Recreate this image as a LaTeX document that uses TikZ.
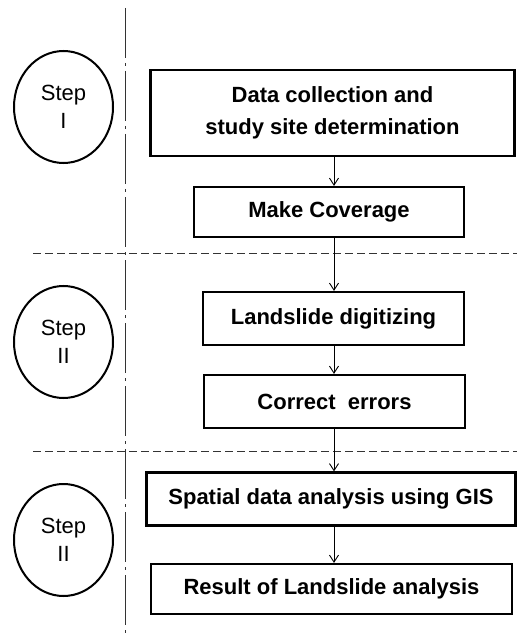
\documentclass[tikz,border=0pt]{standalone}
\usepackage{fontspec}
\setmainfont{Liberation Sans}
\usetikzlibrary{arrows.meta,shapes.geometric}
\begin{document}
\begin{tikzpicture}[x=1pt,y=-1pt,
  stepbox/.style={draw=black,line width=2.2pt,inner sep=0pt,align=center,
     font=\fontsize{22}{32}\selectfont\bfseries},
  stepcirc/.style={draw=black,line width=2pt,ellipse,minimum width=99pt,minimum height=112pt,
     inner sep=0pt,align=center,font=\fontsize{22}{28}\selectfont},
  arr/.style={line width=0.9pt,-{Straight Barb[length=7pt,width=9pt,line width=0.9pt]}},
  sep/.style={line width=1pt,draw=black!80,dash pattern=on 8pt off 4pt},
  vsep/.style={line width=1pt,draw=black!80,dash pattern=on 50pt off 5pt on 3pt off 5pt}
]
\useasboundingbox (0,0) rectangle (517,636);
% step circles
\node[stepcirc] (c1) at (63.5,107) {Step\\I};
\node[stepcirc] (c2) at (63.5,342) {Step\\II};
\node[stepcirc] (c3) at (63.5,540) {Step\\II};
% separators
\coordinate (vt) at (125,8);
\coordinate (vb) at (125,636);
\draw[vsep] (vt) -- (vb);
\coordinate (h1l) at (33,253);
\coordinate (h1r) at (517,253);
\draw[sep] (h1l) -- (h1r);
\coordinate (h2l) at (33,451);
\coordinate (h2r) at (517,451);
\draw[sep] (h2l) -- (h2r);
% boxes
\node[stepbox,minimum width=364pt,minimum height=86pt] (b1) at (332.5,113) {Data collection and\\study site determination};
\node[stepbox,minimum width=270pt,minimum height=50pt] (b2) at (329,212) {Make Coverage};
\node[stepbox,minimum width=261pt,minimum height=53pt] (b3) at (333.5,318.5) {Landslide digitizing};
\node[stepbox,minimum width=261pt,minimum height=53pt] (b4) at (334.5,401.5) {Correct\ \ errors};
\node[stepbox,minimum width=369pt,minimum height=53pt] (b5) at (331,499) {Spatial data analysis using GIS};
\node[stepbox,minimum width=361pt,minimum height=50pt] (b6) at (331.5,589) {Result of Landslide analysis};
% arrows
\coordinate (ax) at (334,0);
\draw[arr] (b1.south -| ax) -- (b2.north -| ax);
\draw[arr] (b2.south -| ax) -- (b3.north -| ax);
\draw[arr] (b3.south -| ax) -- (b4.north -| ax);
\draw[arr] (b4.south -| ax) -- (b5.north -| ax);
\draw[arr] (b5.south -| ax) -- (b6.north -| ax);
\end{tikzpicture}
\end{document}
